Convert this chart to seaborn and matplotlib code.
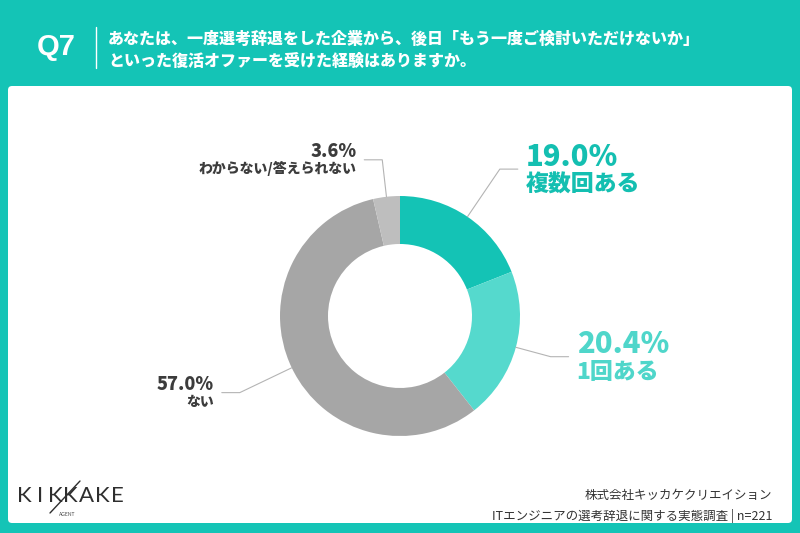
import numpy as np
import matplotlib.pyplot as plt
import seaborn as sns
from matplotlib.patches import FancyBboxPatch

sns.set_style("white")
plt.rcParams["font.family"] = ["Noto Sans CJK JP", "DejaVu Sans"]

# data
labels = ["複数回ある", "1回ある", "ない", "わからない/答えられない"]
values = [19.0, 20.4, 57.0, 3.6]
slice_colors = ["#14C3B5", "#55D9CD", "#A6A6A6", "#BEBEBE"]
text_colors = ["#14BFB1", "#4FD6CA", "#3C3C3C", "#3C3C3C"]
question = "あなたは、一度選考辞退をした企業から、後日「もう一度ご検討いただけないか」\nといった復活オファーを受けた経験はありますか。"
footer = ["株式会社キッカケクリエイション", "ITエンジニアの選考辞退に関する実態調査 | n=221"]
logo = "KIKKAKE"

W, H = 800, 533
def Y(y):
    return H - y

fig = plt.figure(figsize=(8, 5.33), dpi=100)
fig.patch.set_facecolor("#14C4B6")
ax = fig.add_axes([0, 0, 1, 1])
ax.set_facecolor("none")

# white panel
ax.add_patch(FancyBboxPatch((8, Y(523)), 784, 437, boxstyle="round,pad=0,rounding_size=4",
                            fc="white", ec="none", zorder=0))

# header
ax.text(56, Y(47), "Q7", color="white", fontsize=21, fontweight="bold",
        ha="center", va="center", family=["Liberation Sans", "DejaVu Sans"])
ax.plot([96, 96], [Y(27), Y(68)], color="white", lw=1)
ax.text(108, Y(50), question, color="white", fontsize=11.5, fontweight="heavy",
        ha="left", va="center", linespacing=1.45)

# donut
cx, cy, R = 400, Y(316), 120
wedges, _ = ax.pie(values, colors=slice_colors, startangle=90, counterclock=False,
                   radius=R, center=(cx, cy), frame=True,
                   wedgeprops=dict(width=48, edgecolor="none"))

# leader lines and labels
elbow_r = [1.48, 1.30, 1.48, 1.31]
pct_size = [21, 21, 13, 13]
lab_size = [16.5, 16.5, 10, 10]
cum = np.cumsum([0] + values[:-1])
for i, v in enumerate(values):
    mid = 90 - 360 * (cum[i] + v / 2) / 100
    t = np.deg2rad(mid)
    x0, y0 = cx + R * np.cos(t), cy + R * np.sin(t)
    x1, y1 = cx + R * elbow_r[i] * np.cos(t), cy + R * elbow_r[i] * np.sin(t)
    side = 1 if np.cos(t) > 0.05 else -1
    if i == 3:
        side = -1
    x2 = x1 + side * 18
    ax.plot([x0, x1, x2], [y0, y1, y1], color="#B4B4B4", lw=0.8, zorder=3)
    ha = "left" if side > 0 else "right"
    tx = x2 + side * 8
    if i < 2:
        ax.text(tx, y1 + 12, f"{v:.1f}%", color=text_colors[i], fontsize=pct_size[i],
                fontweight="heavy", ha=ha, va="center")
        ax.text(tx, y1 - 16, labels[i], color=text_colors[i], fontsize=lab_size[i],
                fontweight="heavy", ha=ha, va="center")
    else:
        ax.text(tx, y1 + 8, f"{v:.1f}%", color=text_colors[i], fontsize=pct_size[i],
                fontweight="heavy", ha=ha, va="center")
        ax.text(tx, y1 - 9, labels[i], color=text_colors[i], fontsize=lab_size[i],
                fontweight="heavy", ha=ha, va="center")

# logo, letter-spaced
for k, ch in enumerate(logo):
    ax.text(24 + k * 15.6, Y(496), ch, color="#2E2E2E", fontsize=16, fontweight="normal",
            ha="center", va="center", family=["Lato", "DejaVu Sans"])
ax.plot([80, 50], [Y(481), Y(513)], color="#2E2E2E", lw=1.0)
ax.text(67, Y(514), "AGENT", color="#444444", fontsize=3.5, ha="center", va="center",
        family=["Lato", "DejaVu Sans"])

# footer
ax.text(772, Y(495), footer[0], color="#333333", fontsize=9, ha="right", va="center")
ax.text(772, Y(516), footer[1], color="#333333", fontsize=9, ha="right", va="center")

ax.set_xlim(0, W)
ax.set_ylim(0, H)
ax.set_aspect("auto")
ax.axis("off")

fig.savefig("out.png", dpi=100, facecolor=fig.get_facecolor())
